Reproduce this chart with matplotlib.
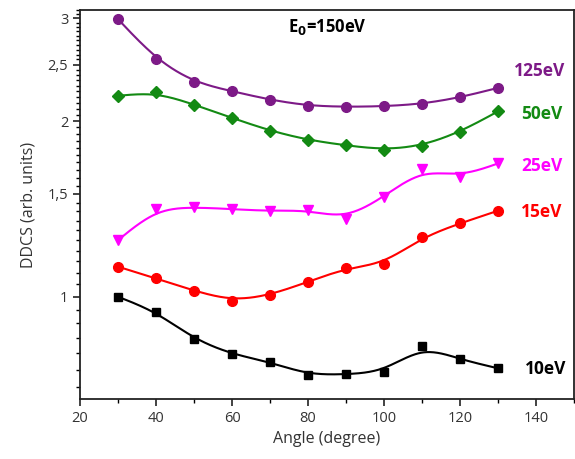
import matplotlib
matplotlib.use("Agg")
import matplotlib.pyplot as plt
import numpy as np
from matplotlib.ticker import FixedLocator, FixedFormatter, MultipleLocator

plt.rcParams["font.family"] = ["Open Sans", "DejaVu Sans"]

angles = [30, 40, 50, 60, 70, 80, 90, 100, 110, 120, 130]

ddcs_125 = [2.99, 2.55, 2.33, 2.25, 2.175, 2.125, 2.115, 2.12, 2.14, 2.195, 2.28]
ddcs_50 = [2.21, 2.24, 2.135, 2.025, 1.925, 1.856, 1.817, 1.786, 1.814, 1.915, 2.078]
ddcs_25 = [1.25, 1.413, 1.424, 1.413, 1.402, 1.408, 1.36, 1.484, 1.653, 1.605, 1.692]
ddcs_15 = [1.126, 1.075, 1.024, 0.984, 1.006, 1.061, 1.119, 1.139, 1.264, 1.336, 1.404]
ddcs_10 = [1.0, 0.943, 0.846, 0.797, 0.773, 0.735, 0.736, 0.744, 0.823, 0.781, 0.754]

series = [
    ("125eV", ddcs_125, "#7d1a87", "o", 7),
    ("50eV", ddcs_50, "#138a13", "D", 6),
    ("25eV", ddcs_25, "#ff00ff", "v", 7.5),
    ("15eV", ddcs_15, "#ff0000", "o", 7),
    ("10eV", ddcs_10, "#000000", "s", 6),
]

label_pos = {"125eV": (141, 2.44), "50eV": (141.5, 2.06), "25eV": (141.5, 1.675),
             "15eV": (141.5, 1.395), "10eV": (142.5, 0.753)}

y_major = [1, 1.5, 2, 2.5, 3]
y_major_lbl = ["1", "1,5", "2", "2,5", "3"]


def bspline(x, y, n=40):
    # uniform cubic B-spline, data points as control points (log y), ends pinned
    px = np.asarray(x, float)
    py = np.log(np.asarray(y, float))
    px = np.concatenate([[2 * px[0] - px[1]], px, [2 * px[-1] - px[-2]]])
    py = np.concatenate([[2 * py[0] - py[1]], py, [2 * py[-1] - py[-2]]])
    xs, ys = [], []
    t = np.linspace(0, 1, n)
    b0 = (1 - t) ** 3 / 6
    b1 = (3 * t ** 3 - 6 * t ** 2 + 4) / 6
    b2 = (-3 * t ** 3 + 3 * t ** 2 + 3 * t + 1) / 6
    b3 = t ** 3 / 6
    for i in range(len(px) - 3):
        xs.append(b0 * px[i] + b1 * px[i + 1] + b2 * px[i + 2] + b3 * px[i + 3])
        ys.append(b0 * py[i] + b1 * py[i + 1] + b2 * py[i + 2] + b3 * py[i + 3])
    return np.concatenate(xs), np.exp(np.concatenate(ys))


fig = plt.figure(figsize=(5.75, 4.59), dpi=100)
ax = fig.add_axes([80 / 575, 1 - 399 / 459, 494 / 575, 389 / 459])

for name, vals, color, mk, ms in series:
    sx, sy = bspline(angles, vals)
    ax.plot(sx, sy, color=color, lw=1.5, zorder=2)
    ax.plot(angles, vals, ls="none", marker=mk, ms=ms, color=color, zorder=3)
    tx, ty = label_pos[name]
    ax.text(tx, ty, name, color=color, fontsize=12.5, fontweight="bold",
            ha="center", va="center")

ax.text(85, 2.9, r"E$_\mathbf{0}$=150eV", fontsize=12, fontweight="bold",
        ha="center", va="center")

ax.set_yscale("log")
ax.set_xlim(20, 150)
ax.set_ylim(0.668, 3.1)
ax.yaxis.set_major_locator(FixedLocator(y_major))
ax.yaxis.set_major_formatter(FixedFormatter(y_major_lbl))
ax.yaxis.set_minor_locator(FixedLocator(np.arange(0.7, 3.11, 0.05)))
ax.yaxis.set_minor_formatter(FixedFormatter([]))
ax.xaxis.set_major_locator(MultipleLocator(20))
ax.xaxis.set_minor_locator(MultipleLocator(10))

ax.tick_params(which="major", direction="out", length=5, width=1.2,
               labelsize=10.5, colors="#222222", labelcolor="#333333")
ax.tick_params(which="minor", direction="out", length=3, width=1)
for sp in ax.spines.values():
    sp.set_linewidth(1.3)
    sp.set_color("#222222")

ax.set_xlabel("Angle (degree)", fontsize=11.5, color="#333333", labelpad=4)
ax.set_ylabel("DDCS (arb. units)", fontsize=11.5, color="#333333", labelpad=8)

fig.savefig("out.png", dpi=100)
